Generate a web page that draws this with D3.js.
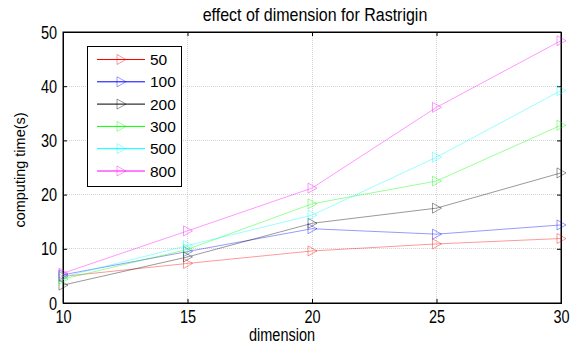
<!DOCTYPE html>
<html>
<head>
<meta charset="utf-8">
<script src="https://d3js.org/d3.v7.min.js"></script>
<style>
  body { margin: 0; background: #fff; }
  text { font-family: "Liberation Sans", Arial, sans-serif; fill: #000; }
</style>
</head>
<body>
<svg id="chart" width="576" height="348"></svg>
<script>
const dims = [10, 15, 20, 25, 30];
const seriesNames = ["50", "100", "200", "300", "500", "800"];
const seriesColors = ["#ff0000", "#0000ff", "#000000", "#00ff00", "#00ffff", "#ff00ff"];
const v50  = [4.9, 7.3, 9.6, 10.9, 11.9];
const v100 = [5.2, 9.5, 13.7, 12.7, 14.4];
const v200 = [3.3, 8.5, 14.7, 17.5, 24.0];
const v300 = [4.4, 9.9, 18.3, 22.5, 32.8];
const v500 = [4.8, 10.6, 16.2, 26.9, 39.2];
const v800 = [5.5, 13.3, 21.2, 36.1, 48.4];
const seriesValues = [v50, v100, v200, v300, v500, v800];
const xTicks = [10, 15, 20, 25, 30];
const yTicks = [0, 10, 20, 30, 40, 50];

const svg = d3.select("#chart");
const m = { left: 63, right: 561, top: 32, bottom: 303 };
const stretch = "scale(1,1.27)"; // axis labels in the original are drawn a bit tall

const x = d3.scaleLinear().domain([10, 30]).range([m.left, m.right]);
const y = d3.scaleLinear().domain([0, 50]).range([m.bottom, m.top]);

// grid
const grid = svg.append("g").attr("stroke", "#b8b8b8").attr("stroke-width", 0.6)
  .attr("stroke-dasharray", "1,1").attr("shape-rendering", "crispEdges");
grid.selectAll(".gx").data(xTicks.slice(1, -1)).join("line")
  .attr("x1", d => x(d)).attr("x2", d => x(d)).attr("y1", m.top).attr("y2", m.bottom);
grid.selectAll(".gy").data(yTicks.slice(1, -1)).join("line")
  .attr("y1", d => y(d)).attr("y2", d => y(d)).attr("x1", m.left).attr("x2", m.right);

// axes (ticks inside)
const tick = 4;
svg.append("g").attr("transform", `translate(0,${m.bottom})`)
  .call(d3.axisBottom(x).tickValues(xTicks).tickSize(-tick))
  .call(g => g.selectAll("text").attr("font-size", 14.5).attr("y", 0).attr("dy", 0)
    .attr("transform", `translate(0,20) ${stretch}`));
svg.append("g").attr("transform", `translate(0,${m.top})`)
  .call(d3.axisTop(x).tickValues(xTicks).tickSize(-tick).tickFormat(""));
svg.append("g").attr("transform", `translate(${m.left},0)`)
  .call(d3.axisLeft(y).tickValues(yTicks).tickSize(-tick))
  .call(g => g.selectAll("text").attr("font-size", 14.5).attr("x", -6).attr("dy", 0)
    .attr("transform", `translate(0,6) ${stretch}`));
svg.append("g").attr("transform", `translate(${m.right},0)`)
  .call(d3.axisRight(y).tickValues(yTicks).tickSize(-tick).tickFormat(""));
svg.selectAll(".domain").attr("stroke", "#000");
svg.selectAll(".tick line").attr("stroke", "#000");

// box
svg.append("rect").attr("x", m.left).attr("y", m.top)
  .attr("width", m.right - m.left).attr("height", m.bottom - m.top)
  .attr("fill", "none").attr("stroke", "#000").attr("stroke-width", 1);

const tri = "M-4,-5L5,0L-4,5Z";
const line = d3.line().x((d, i) => x(dims[i])).y(d => y(d));

seriesValues.forEach((vals, k) => {
  const c = seriesColors[k];
  svg.append("path").datum(vals).attr("d", line)
    .attr("fill", "none").attr("stroke", c).attr("stroke-width", 1).attr("stroke-opacity", 0.4);
  svg.append("g").selectAll("path").data(vals).join("path")
    .attr("transform", (d, i) => `translate(${x(dims[i])},${y(d)})`)
    .attr("d", tri).attr("fill", "none").attr("stroke", c).attr("stroke-opacity", 0.4);
});

// legend
const lg = svg.append("g");
lg.append("rect").attr("x", 87.5).attr("y", 46.5).attr("width", 94).attr("height", 140)
  .attr("fill", "#fff").attr("stroke", "#000");
seriesNames.forEach((name, k) => {
  const ly = 59.5 + k * 22.3;
  lg.append("line").attr("x1", 97).attr("x2", 145).attr("y1", ly).attr("y2", ly)
    .attr("stroke", seriesColors[k]).attr("stroke-width", 1);
  lg.append("path").attr("transform", `translate(121,${ly})`).attr("d", tri)
    .attr("fill", "none").attr("stroke", seriesColors[k]).attr("stroke-opacity", 0.4);
  lg.append("text").attr("x", 150).attr("y", ly + 5.5).attr("font-size", 15.5).text(name);
});

// titles
svg.append("text").attr("transform", "translate(315,21) scale(1,1.13)")
  .attr("text-anchor", "middle").attr("font-size", 16).text("effect of dimension for Rastrigin");
svg.append("text").attr("transform", `translate(282,341) ${stretch}`)
  .attr("text-anchor", "middle").attr("font-size", 14.5).text("dimension");
svg.append("text").attr("transform", "translate(25,170) rotate(-90)")
  .attr("text-anchor", "middle").attr("font-size", 14.5).text("computing time(s)");
</script>
</body>
</html>
